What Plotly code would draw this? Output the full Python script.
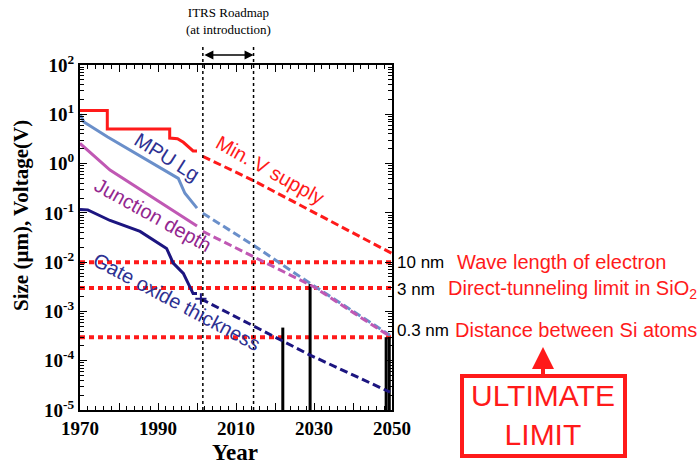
import plotly.graph_objects as go

# ---------------- data ----------------
vsup_years = [1970, 1977, 1977, 1993, 1993, 1995, 1996.5, 1998, 1999, 2000]
vsup_vals = [12, 12, 5, 5, 3.3, 3.2, 2.7, 2.1, 1.8, 1.8]
vsup_proj_years = [2001.5, 2014.5, 2050]
vsup_proj_vals = [1.4, 0.45, 0.015]

lg_years = [1970, 1971, 1977, 1995.2, 1996.9, 2000]
lg_vals = [10, 7, 3.5, 0.5, 0.25, 0.125]
lg_proj_years = [2001.5, 2014.5, 2029, 2049.5]
lg_proj_vals = [0.098, 0.022, 0.0037, 0.00033]

jd_years = [1970, 1977.7, 2000]
jd_vals = [2.57, 0.74, 0.054]
jd_proj_years = [2001.5, 2014.5, 2029.8, 2049.5]
jd_proj_vals = [0.042, 0.013, 0.0032, 0.00031]

tox_years = [1970, 1972, 1977.7, 1985.4, 1992.2, 1993.9, 1996.5, 1999, 2000]
tox_vals = [0.117, 0.115, 0.07, 0.042, 0.019, 0.0096, 0.0059, 0.0023, 0.0023]
tox_proj_years = [2001, 2014.5, 2029, 2049.5]
tox_proj_vals = [0.0018, 0.00051, 0.00013, 0.000023]

limit_vals = [1e-2, 3e-3, 3e-4]
limit_labels = ["10 nm", "3 nm", "0.3 nm"]
limit_texts = ["Wave length of electron", "Direct-tunneling limit in SiO<sub>2</sub>",
               "Distance between Si atoms"]

bar_years = [2022, 2029, 2048.5, 2049.3]
bar_tops = [4.7e-4, 3.6e-3, 3.0e-4, 3.0e-4]

roadmap_years = [2001.5, 2014.5]

x_ticks = [1970, 1980, 1990, 2000, 2010, 2020, 2030, 2040, 2050]
x_ticktext = ["1970", "", "1990", "", "2010", "", "2030", "", "2050"]
y_ticks = [1e-5, 1e-4, 1e-3, 1e-2, 1e-1, 1e0, 1e1, 1e2]
y_exps = ["-5", "-4", "-3", "-2", "-1", "0", "1", "2"]

# ---------------- styles ----------------
RED = "#ff1a1a"
LG = "#6a8fca"
JD = "#c058b4"
TOX = "#1c1580"
SERIF = "Liberation Serif, Times New Roman, serif"
SANS = "Liberation Sans, Arial, sans-serif"

# plot area in pixels: x 80..392, y 65..410
PL, PR, PT, PB = 80, 392, 65, 410


def px(x):
    return (x - PL) / (PR - PL)


def py(y):
    return (PB - y) / (PB - PT)


fig = go.Figure()

# horizontal limit lines
for v in limit_vals:
    fig.add_trace(go.Scatter(x=[1970, 2050], y=[v, v], mode="lines",
                             line=dict(color=RED, width=4, dash="5px,4px"),
                             hoverinfo="skip"))

# black bars
for yr, top in zip(bar_years, bar_tops):
    fig.add_trace(go.Scatter(x=[yr, yr], y=[1e-5, top], mode="lines",
                             line=dict(color="black", width=3), hoverinfo="skip"))

dash = "8px,4px"
fig.add_trace(go.Scatter(x=vsup_years, y=vsup_vals, mode="lines",
                         line=dict(color=RED, width=3)))
fig.add_trace(go.Scatter(x=vsup_proj_years, y=vsup_proj_vals, mode="lines",
                         line=dict(color=RED, width=3, dash=dash)))
fig.add_trace(go.Scatter(x=lg_years, y=lg_vals, mode="lines",
                         line=dict(color=LG, width=3)))
fig.add_trace(go.Scatter(x=lg_proj_years, y=lg_proj_vals, mode="lines",
                         line=dict(color=LG, width=3, dash=dash)))
fig.add_trace(go.Scatter(x=jd_years, y=jd_vals, mode="lines",
                         line=dict(color=JD, width=3)))
fig.add_trace(go.Scatter(x=jd_proj_years, y=jd_proj_vals, mode="lines",
                         line=dict(color=JD, width=3, dash=dash)))
fig.add_trace(go.Scatter(x=tox_years, y=tox_vals, mode="lines",
                         line=dict(color=TOX, width=3)))
fig.add_trace(go.Scatter(x=tox_proj_years, y=tox_proj_vals, mode="lines",
                         line=dict(color=TOX, width=3, dash=dash)))
fig.add_trace(go.Scatter(x=tox_proj_years[:1], y=tox_proj_vals[:1], mode="markers",
                         marker=dict(symbol="cross-thin", size=8,
                                     line=dict(color=TOX, width=2))))

# roadmap dotted verticals
for yr in roadmap_years:
    fig.add_shape(type="line", xref="x", yref="paper", x0=yr, x1=yr, y0=0, y1=py(45),
                  line=dict(color="black", width=1.5, dash="dot"))

C = dict(xanchor="center", yanchor="middle", showarrow=False)
annotations = []
annotations.append(dict(xref="x", yref="paper", x=roadmap_years[1], y=py(55),
                        axref="x", ax=roadmap_years[0], ayref="pixel", ay=0,
                        showarrow=True, arrowhead=2, arrowside="end+start",
                        arrowsize=1.2, arrowwidth=1.5, arrowcolor="black", text=""))
annotations.append(dict(xref="paper", yref="paper", x=px(228), y=py(21),
                        text="ITRS Roadmap<br>(at introduction)", align="center",
                        font=dict(family=SERIF, size=13, color="black"), **C))

# rotated series labels
annotations += [
    dict(xref="paper", yref="paper", x=px(167), y=py(157),
         text="MPU Lg", textangle=32,
         font=dict(family=SANS, size=20, color="#2e3192"), **C),
    dict(xref="paper", yref="paper", x=px(153), y=py(215),
         text="Junction depth", textangle=29,
         font=dict(family=SANS, size=20, color="#93278f"), **C),
    dict(xref="paper", yref="paper", x=px(177), y=py(302),
         text="Gate oxide thickness", textangle=28,
         font=dict(family=SANS, size=20, color="#2e3192"), **C),
    dict(xref="paper", yref="paper", x=px(270), y=py(170),
         text="Min. V supply", textangle=29,
         font=dict(family=SANS, size=20, color=RED), **C),
]

# right-hand labels
label_y_px = [262, 289, 330]
text_x_px = [455, 446, 453]
for lab, txt, ypx, txp in zip(limit_labels, limit_texts, label_y_px, text_x_px):
    annotations.append(dict(xref="paper", yref="paper", x=px(395), y=py(ypx),
                            xanchor="left", yanchor="middle", text=lab, showarrow=False,
                            font=dict(family=SANS, size=17, color="black")))
    annotations.append(dict(xref="paper", yref="paper", x=px(txp), y=py(ypx),
                            xanchor="left", yanchor="middle", text=txt, showarrow=False,
                            font=dict(family=SANS, size=20, color=RED)))

# ULTIMATE LIMIT box + arrow
fig.add_shape(type="rect", xref="paper", yref="paper",
              x0=px(462), x1=px(625), y0=py(456), y1=py(376),
              line=dict(color=RED, width=4))
annotations.append(dict(xref="paper", yref="paper", x=px(543), y=py(347),
                        ax=0, ay=29, showarrow=True, arrowhead=2, arrowsize=1.1,
                        arrowwidth=4, arrowcolor=RED, text=""))
annotations.append(dict(xref="paper", yref="paper", x=px(543), y=py(415),
                        text="ULTIMATE<br>LIMIT", align="center",
                        font=dict(family=SANS, size=30, color=RED), **C))

# axis titles
annotations.append(dict(xref="paper", yref="paper", x=px(235), y=py(452),
                        text="<b>Year</b>",
                        font=dict(family=SERIF, size=23, color="black"), **C))
annotations.append(dict(xref="paper", yref="paper", x=px(21), y=py(216),
                        text="<b>Size (µm), Voltage(V)</b>", textangle=-90,
                        font=dict(family=SERIF, size=21, color="black"), **C))

fig.update_layout(
    width=700, height=464,
    margin=dict(l=PL, r=700 - PR, t=PT, b=464 - PB, autoexpand=False),
    paper_bgcolor="white", plot_bgcolor="white",
    showlegend=False,
    annotations=annotations,
    xaxis=dict(range=[1970, 2050], tickmode="array", tickvals=x_ticks,
               ticktext=["<b>%s</b>" % t if t else "" for t in x_ticktext],
               ticks="inside", ticklen=7, tickwidth=1, tickcolor="black",
               minor=dict(dtick=2, ticks="inside", ticklen=4, tickcolor="black"),
               showline=True, linecolor="black", linewidth=2, mirror="ticks",
               showgrid=False, zeroline=False, automargin=False,
               tickfont=dict(family=SERIF, size=19, color="black")),
    yaxis=dict(type="log", range=[-5, 2], tickmode="array", tickvals=y_ticks,
               ticktext=["<b>10<sup>%s</sup></b>" % e for e in y_exps],
               ticks="inside", ticklen=7, tickwidth=1, tickcolor="black",
               minor=dict(dtick="D1", ticks="inside", ticklen=4, tickcolor="black"),
               showline=True, linecolor="black", linewidth=2, mirror="ticks",
               showgrid=False, zeroline=False, automargin=False,
               tickfont=dict(family=SERIF, size=19, color="black")),
)

fig.write_html("out.html", config={"displayModeBar": False},
               post_script="document.body.style.margin='0';")
